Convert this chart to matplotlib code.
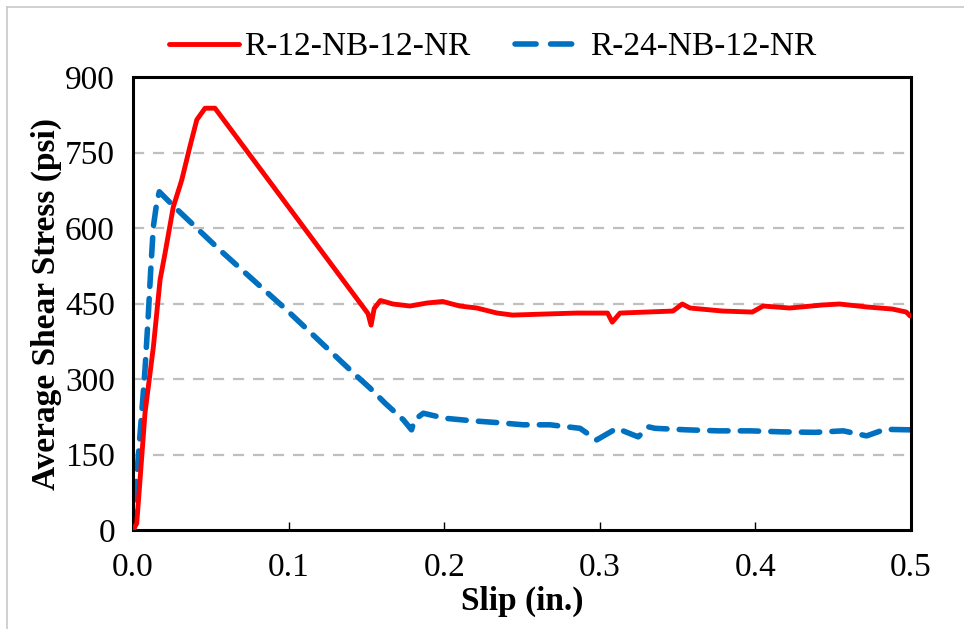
import matplotlib
matplotlib.use("Agg")
import matplotlib.pyplot as plt
from matplotlib.lines import Line2D

# Data
red_label = "R-12-NB-12-NR"
red_x = [0.0, 0.0024, 0.0045, 0.0077, 0.0131, 0.0174, 0.0206, 0.0259, 0.0313, 0.0366, 0.041,
         0.0463, 0.0527, 0.151, 0.153, 0.155, 0.159, 0.167, 0.178, 0.189, 0.199, 0.210, 0.221,
         0.234, 0.244, 0.264, 0.285, 0.305, 0.308, 0.313, 0.330, 0.347, 0.353, 0.358,
         0.379, 0.398, 0.405, 0.422, 0.443, 0.454, 0.472, 0.488, 0.497, 0.4995]
red_y = [0, 13, 99, 232, 364, 497, 550, 642, 695, 762, 815,
         838, 838, 430, 407, 440, 456, 449, 445, 451, 454, 445, 441,
         431, 427, 429, 431, 431, 413, 431, 433, 435, 449, 441,
         435, 433, 445, 441, 447, 449, 443, 439, 433, 425]

blue_label = "R-24-NB-12-NR"
blue_x = [0.0, 0.0013, 0.0013, 0.0034, 0.0056, 0.0077, 0.0099, 0.0114, 0.0131, 0.0152, 0.0169,
          0.0259, 0.0559, 0.0988, 0.1416, 0.1523, 0.162, 0.1737, 0.179, 0.181, 0.1866, 0.2005,
          0.2177, 0.2359, 0.2508, 0.268, 0.2873, 0.298, 0.3109, 0.3247, 0.3312, 0.3355, 0.3558,
          0.3762, 0.3965, 0.4169, 0.4383, 0.4565, 0.4715, 0.4833, 0.4994]
blue_y = [0, 13, 66, 146, 232, 318, 431, 517, 603, 649, 672,
          644, 556, 437, 312, 282, 252, 219, 199, 219, 232, 222,
          217, 213, 209, 209, 202, 179, 202, 185, 205, 202, 199,
          197, 197, 195, 194, 197, 187, 200, 199]

x_ticks = [0.0, 0.1, 0.2, 0.3, 0.4, 0.5]
x_ticklabels = ["0.0", "0.1", "0.2", "0.3", "0.4", "0.5"]
y_ticks = [0, 150, 300, 450, 600, 750, 900]

plt.rcParams['font.family'] = ['Liberation Serif', 'DejaVu Serif']

FS = 24
fig = plt.figure(figsize=(9.64, 6.29), dpi=100)
ax = fig.add_axes([133/964, 1 - 530/629, (911-133)/964, (530-77)/629])

for yv in y_ticks[1:-1]:
    ax.axhline(yv, color='#bfbfbf', lw=1.6, dashes=(5, 4), zorder=1)

ax.plot(red_x, red_y, color='#ff0000', lw=3.5, solid_capstyle='round',
        solid_joinstyle='round', zorder=3, label=red_label)
ax.plot(blue_x, blue_y, color='#0070c0', lw=4.0, dashes=(3.3, 2.2),
        dash_capstyle='round', zorder=2, label=blue_label)

ax.set_xlim(0, 0.5)
ax.set_ylim(0, 900)
ax.set_xticks(x_ticks)
ax.set_xticklabels(x_ticklabels)
ax.set_yticks(y_ticks)
ax.tick_params(axis='both', direction='in', labelsize=FS, length=6, width=1, color='black')
ax.tick_params(axis='x', pad=16)
ax.tick_params(axis='y', pad=13, length=0)
for s in ax.spines.values():
    s.set_linewidth(2.2)
    s.set_color('black')

ax.set_xlabel("Slip (in.)", fontsize=FS, fontweight='bold', labelpad=2)
ax.set_ylabel("Average Shear Stress (psi)", fontsize=FS, fontweight='bold', labelpad=2)

handles = [Line2D([0], [0], color='#ff0000', lw=3.5, solid_capstyle='round'),
           Line2D([0], [0], color='#0070c0', lw=4.0, dashes=(3.8, 2.6), dash_capstyle='round')]
fig.legend(handles, [red_label, blue_label], loc='center', bbox_to_anchor=(0.511, 1 - 47/629),
           ncol=2, frameon=False, fontsize=FS, handlelength=2.1, handletextpad=0.15,
           columnspacing=1.35)

# partial grey border of the chart area (top and left edges visible)
fig.add_artist(Line2D([7/964, 1], [1 - 7/629, 1 - 7/629], color='#c8c8c8', lw=1.2))
fig.add_artist(Line2D([7/964, 7/964], [0, 1 - 7/629], color='#c8c8c8', lw=1.2))

fig.savefig("out.png", dpi=100)
